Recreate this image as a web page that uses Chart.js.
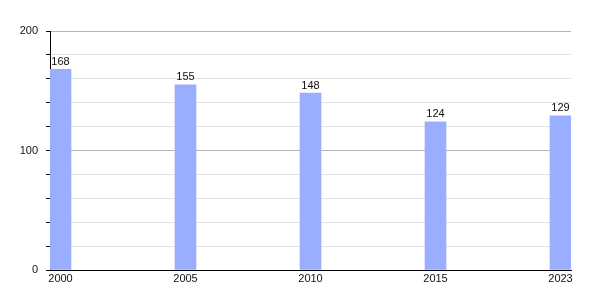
<!DOCTYPE html>
<html>
<head>
<meta charset="utf-8">
<script src="https://cdn.jsdelivr.net/npm/chart.js@4/dist/chart.umd.min.js"></script>
<style>
html,body{margin:0;padding:0;background:#fff;}
#wrap{width:600px;height:300px;}
</style>
</head>
<body>
<div id="wrap"><canvas id="c" width="600" height="300"></canvas></div>
<script>
const categories = ["2000", "2005", "2010", "2015", "2023"];
const values = [168, 155, 148, 124, 129];
const yTickLabels = [0, 100, 200];

const points = values.map((v, i) => ({ x: i, y: v }));

const valueLabels = {
  id: 'valueLabels',
  afterDatasetsDraw(chart) {
    const ctx = chart.ctx;
    const meta = chart.getDatasetMeta(0);
    ctx.save();
    ctx.font = '11px "Liberation Sans", Arial, sans-serif';
    ctx.fillStyle = '#111';
    ctx.textAlign = 'center';
    ctx.textBaseline = 'bottom';
    meta.data.forEach((bar, i) => {
      ctx.fillText(String(values[i]), bar.x, bar.y - 2);
    });
    ctx.restore();
  }
};

new Chart(document.getElementById('c'), {
  type: 'bar',
  data: {
    datasets: [{
      data: points,
      backgroundColor: '#9aaeff',
      borderWidth: 0,
      barThickness: 21
    }]
  },
  options: {
    responsive: false,
    animation: false,
    events: [],
    layout: { padding: { left: 0, right: 29, top: 31, bottom: 0 } },
    plugins: { legend: { display: false }, tooltip: { enabled: false } },
    scales: {
      x: {
        type: 'linear',
        offset: false,
        min: -0.084,
        max: 4.084,
        afterBuildTicks: (axis) => { axis.ticks = categories.map((c, i) => ({ value: i })); },
        afterFit: (axis) => { axis.height = 30; },
        grid: { display: false, drawTicks: false, offset: false },
        border: { display: true, color: '#000', width: 1 },
        ticks: {
          padding: 2,
          maxRotation: 0,
          autoSkip: false,
          color: '#111',
          font: { family: '"Liberation Sans", Arial, sans-serif', size: 11 },
          callback: (v) => categories[v] !== undefined ? categories[v] : ''
        }
      },
      y: {
        min: 0,
        max: 200,
        afterFit: (axis) => { axis.width = 50; },
        ticks: {
          stepSize: 20,
          padding: 8,
          color: '#111',
          font: { family: '"Liberation Sans", Arial, sans-serif', size: 11 },
          callback: (v) => yTickLabels.includes(v) ? String(v) : ''
        },
        grid: {
          color: (ctx) => (ctx.tick && ctx.tick.value % 100 === 0) ? '#b4b4b4' : '#e2e2e2',
          tickColor: '#000',
          tickLength: 4,
          drawOnChartArea: true
        },
        border: { display: true, color: '#000', width: 1 }
      }
    }
  },
  plugins: [valueLabels]
});
</script>
</body>
</html>
